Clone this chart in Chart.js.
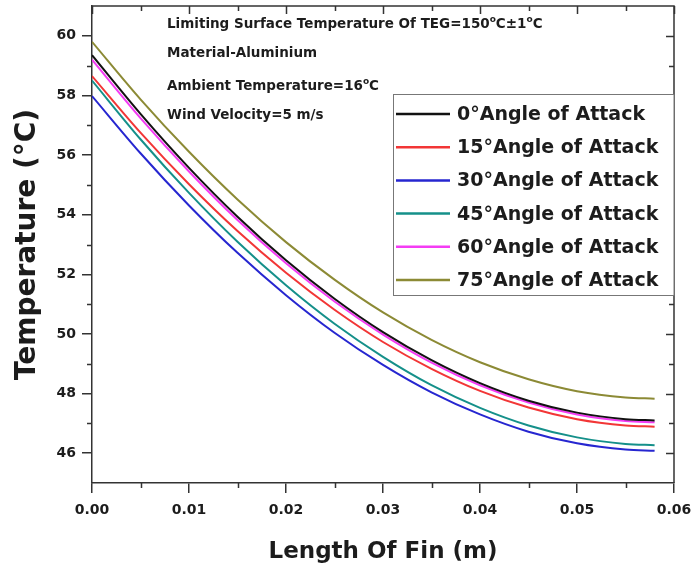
<!DOCTYPE html>
<html>
<head>
<meta charset="utf-8">
<script src="https://cdn.jsdelivr.net/npm/chart.js@4.4.1/dist/chart.umd.min.js"></script>
<style>
  html, body { margin: 0; padding: 0; background: #fff; }
  #wrap { width: 693px; height: 566px; }
</style>
</head>
<body>
<div id="wrap"><canvas id="finChart" width="693" height="566"></canvas></div>
<script>
// Fin length (m) where temperatures were sampled
const finLength = [0, 0.005, 0.01, 0.015, 0.02, 0.025, 0.03, 0.035, 0.04, 0.045, 0.05, 0.055, 0.058];

// Temperature along the fin (°C) for each angle of attack
const aoa0  = [59.35, 57.38, 55.57, 53.93, 52.47, 51.18, 50.06, 49.12, 48.35, 47.76, 47.36, 47.14, 47.10];
const aoa15 = [58.65, 56.75, 55.02, 53.45, 52.05, 50.81, 49.73, 48.83, 48.09, 47.53, 47.14, 46.93, 46.89];
const aoa30 = [57.98, 56.06, 54.31, 52.72, 51.30, 50.04, 48.96, 48.04, 47.30, 46.72, 46.33, 46.12, 46.08];
const aoa45 = [58.50, 56.53, 54.73, 53.09, 51.63, 50.34, 49.23, 48.28, 47.52, 46.93, 46.53, 46.31, 46.27];
const aoa60 = [59.20, 57.24, 55.45, 53.82, 52.37, 51.09, 49.98, 49.04, 48.28, 47.70, 47.30, 47.08, 47.04];
const aoa75 = [59.80, 57.87, 56.11, 54.51, 53.08, 51.82, 50.72, 49.80, 49.05, 48.48, 48.08, 47.87, 47.83];

const seriesNames = ['0°Angle of Attack', '15°Angle of Attack', '30°Angle of Attack',
                     '45°Angle of Attack', '60°Angle of Attack', '75°Angle of Attack'];
const seriesData = [aoa0, aoa15, aoa30, aoa45, aoa60, aoa75];
const seriesColors = ['#111111', '#f23636', '#2626d0', '#15908a', '#f43cf4', '#8c8a35'];

// Axis ranges and labelled ticks
const xMin = 0, xMax = 0.06;
const yMin = 45, yMax = 61;
const xTicks = [0, 0.01, 0.02, 0.03, 0.04, 0.05, 0.06];
const yTicks = [46, 48, 50, 52, 54, 56, 58, 60];

// Text blocks in the upper left of the plot (o = superscript degree)
const notes = [
  ['Limiting Surface Temperature Of TEG=150', {sup: 'o'}, 'C\u00b11', {sup: 'o'}, 'C'],
  ['Material-Aluminium'],
  ['Ambient Temperature=16', {sup: 'o'}, 'C'],
  ['Wind Velocity=5 m/s']
];

const FONT = '"DejaVu Sans", sans-serif';
const axisColor = '#333333';
const textColor = '#1c1c1c';

function drawRich(ctx, parts, x, y, size) {
  let cx = x;
  parts.forEach(p => {
    const sup = typeof p === 'object';
    const t = sup ? p.sup : p;
    ctx.font = `bold ${sup ? Math.round(size * 0.65) : size}px ${FONT}`;
    ctx.fillText(t, cx, sup ? y - size * 0.42 : y);
    cx += ctx.measureText(t).width;
  });
}

// Mirror axes, minor ticks, notes and the boxed legend
const finFrame = {
  id: 'finFrame',
  afterDraw(chart) {
    const {ctx, chartArea: a, scales: {x, y}} = chart;
    ctx.save();
    ctx.strokeStyle = axisColor;
    ctx.lineWidth = 1.5;

    ctx.beginPath();
    ctx.moveTo(a.left, a.top);
    ctx.lineTo(a.right, a.top);
    ctx.lineTo(a.right, a.bottom);
    ctx.stroke();

    ctx.beginPath();
    for (let i = 0; i <= 12; i++) {
      const px = Math.round(x.getPixelForValue(i * 0.005)) + 0.5;
      const major = i % 2 === 0;
      ctx.moveTo(px, a.top);
      ctx.lineTo(px, a.top + (major ? 8 : 5));
      if (!major) {
        ctx.moveTo(px, a.bottom);
        ctx.lineTo(px, a.bottom + 5);
      }
    }
    for (let v = yMin + 1; v < yMax; v++) {
      const py = Math.round(y.getPixelForValue(v)) + 0.5;
      const major = v % 2 === 0;
      ctx.moveTo(a.right, py);
      ctx.lineTo(a.right - (major ? 8 : 5), py);
      if (!major) {
        ctx.moveTo(a.left, py);
        ctx.lineTo(a.left - 5, py);
      }
    }
    ctx.stroke();

    // notes
    ctx.fillStyle = textColor;
    ctx.textBaseline = 'alphabetic';
    ctx.textAlign = 'left';
    const noteBase = [28, 57, 90, 119];
    notes.forEach((parts, i) => drawRich(ctx, parts, 167, noteBase[i], 13.5));

    // legend
    const box = {l: 393.5, t: 94.5, r: a.right, b: 295.5};
    ctx.fillStyle = '#ffffff';
    ctx.fillRect(box.l, box.t, box.r - box.l, box.b - box.t);
    ctx.strokeStyle = '#777777';
    ctx.lineWidth = 1;
    ctx.strokeRect(box.l, box.t, box.r - box.l, box.b - box.t);

    ctx.font = `bold 19px ${FONT}`;
    ctx.textBaseline = 'middle';
    chart.data.datasets.forEach((ds, i) => {
      const ly = 114 + i * 33.2;
      ctx.strokeStyle = ds.borderColor;
      ctx.lineWidth = 2.5;
      ctx.beginPath();
      ctx.moveTo(396, ly);
      ctx.lineTo(450, ly);
      ctx.stroke();
      ctx.fillStyle = textColor;
      ctx.fillText(ds.label, 457, ly + 1);
    });
    ctx.restore();
  }
};

const datasets = seriesData.map((vals, i) => ({
  label: seriesNames[i],
  data: finLength.map((fx, j) => ({x: fx, y: vals[j]})),
  borderColor: seriesColors[i],
  backgroundColor: seriesColors[i],
  borderWidth: 2,
  pointRadius: 0,
  fill: false,
  cubicInterpolationMode: 'monotone'
}));

new Chart(document.getElementById('finChart'), {
  type: 'scatter',
  data: { datasets },
  options: {
    responsive: false,
    animation: false,
    showLine: true,
    layout: { padding: { top: 6, right: 19, left: 0, bottom: 0 } },
    plugins: {
      legend: { display: false },
      tooltip: { enabled: false }
    },
    scales: {
      x: {
        type: 'linear',
        min: xMin,
        max: xMax,
        border: { color: axisColor, width: 1.5 },
        grid: { drawOnChartArea: false, drawTicks: true, tickLength: 10, color: axisColor, lineWidth: 1.5 },
        ticks: {
          padding: 9,
          color: textColor,
          font: { family: FONT, size: 14, weight: 'bold' },
          maxRotation: 0,
          autoSkip: false,
          callback: v => Number(v).toFixed(2)
        },
        afterBuildTicks: s => { s.ticks = xTicks.map(v => ({value: v})); },
        title: {
          display: true,
          text: 'Length Of Fin (m)',
          color: textColor,
          font: { family: FONT, size: 23, weight: 'bold' },
          padding: { top: 2, bottom: 0 }
        },
        afterFit: s => { s.height = 83; s.paddingLeft = 0; s.paddingRight = 0; }
      },
      y: {
        type: 'linear',
        min: yMin,
        max: yMax,
        border: { color: axisColor, width: 1.5 },
        grid: { drawOnChartArea: false, drawTicks: true, tickLength: 10, color: axisColor, lineWidth: 1.5 },
        ticks: {
          padding: 6,
          color: textColor,
          autoSkip: false,
          font: { family: FONT, size: 14, weight: 'bold' }
        },
        afterBuildTicks: s => { s.ticks = yTicks.map(v => ({value: v})); },
        title: {
          display: true,
          text: 'Temperature (°C)',
          color: textColor,
          font: { family: FONT, size: 28, weight: 'bold' },
          padding: { top: 11, bottom: 0 }
        },
        afterFit: s => { s.width = 92; s.paddingTop = 0; s.paddingBottom = 0; }
      }
    }
  },
  plugins: [finFrame]
});
</script>
</body>
</html>
